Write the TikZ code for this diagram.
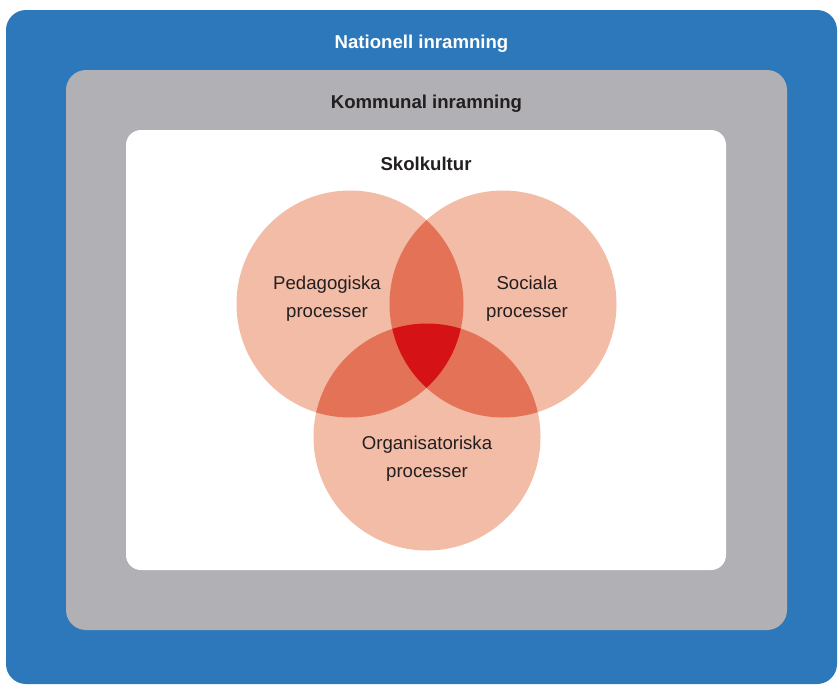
\documentclass[tikz,border=0pt]{standalone}
\usepackage{fontspec}
\setmainfont{Liberation Sans}
\usepackage{tikz}
\usetikzlibrary{positioning}

\definecolor{natblue}{HTML}{2D78BA}
\definecolor{komgray}{HTML}{B1B0B5}
\definecolor{venn}{HTML}{F2BCA7}
\definecolor{vennmid}{HTML}{E47257}
\definecolor{venncore}{HTML}{D51317}
\definecolor{ink}{HTML}{231F20}

\begin{document}
\begin{tikzpicture}[x=0.5pt, y=-0.5pt,
    every node/.style={inner sep=0pt, font=\fontsize{9.3}{14}\selectfont, text=ink},
    frame/.style={rounded corners=10pt},
    title/.style={font=\fontsize{9.3}{14}\selectfont\bfseries},
    set/.style={circle, fill=venn, minimum size=113.5pt},
    setlabel/.style={align=center}]

\useasboundingbox (0,0) rectangle (838,685);

% Frames, outermost first
\node[frame, fill=natblue, minimum width=415.5pt, minimum height=337pt] (national) at (421.5,347) {};
\node[frame, fill=komgray, minimum width=360.5pt, minimum height=280pt] (municipal) at (426.5,350) {};
\node[frame, rounded corners=7.5pt, fill=white, minimum width=300pt, minimum height=220pt] (school) at (426,350) {};

% Frame titles
\node[title, text=white, below=17pt of national.north, anchor=center] (national-title) {Nationell inramning};
\node[title, below=17pt of municipal.north, anchor=center] (municipal-title) {Kommunal inramning};
\node[title, below=17pt of school.north, anchor=center] (school-title) {Skolkultur};

% The three sets
\node[set] (peda) at (350,304) {};
\node[set] (soci) at (503,304) {};
\node[set] (orga) at (427,437) {};

% Pairwise overlaps
\begin{scope}
    \clip (peda.center) circle (56.75pt);
    \fill[vennmid] (soci.center) circle (56.75pt);
    \fill[vennmid] (orga.center) circle (56.75pt);
\end{scope}
\begin{scope}
    \clip (soci.center) circle (56.75pt);
    \fill[vennmid] (orga.center) circle (56.75pt);
\end{scope}

% Common core
\begin{scope}
    \clip (peda.center) circle (56.75pt);
    \clip (soci.center) circle (56.75pt);
    \fill[venncore] (orga.center) circle (56.75pt);
\end{scope}

% Set labels
\node[setlabel] (peda-label) at ([xshift=-11.5pt, yshift=2.5pt]peda.center) {Pedagogiska\\processer};
\node[setlabel] (soci-label) at ([xshift=12pt, yshift=2.5pt]soci.center) {Sociala\\processer};
\node[setlabel] (orga-label) at ([yshift=-11pt]orga.center) {Organisatoriska\\processer};
\end{tikzpicture}
\end{document}
